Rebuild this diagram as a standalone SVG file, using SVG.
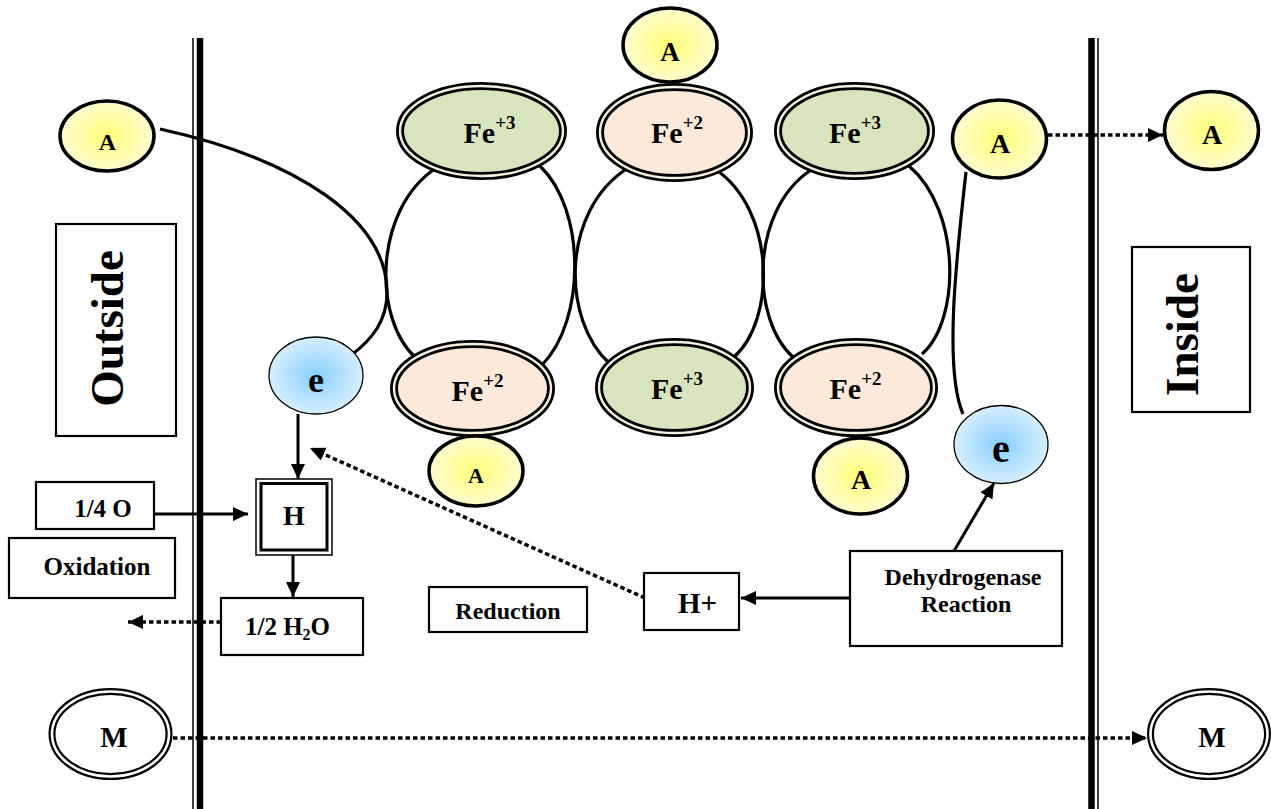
<svg xmlns="http://www.w3.org/2000/svg" width="1271" height="809" viewBox="0 0 1271 809">
<defs>
<radialGradient id="gy" cx="50%" cy="50%" r="50%"><stop offset="0" stop-color="#ffff78"/><stop offset="1" stop-color="#fefdd0"/></radialGradient>
<radialGradient id="gb" cx="50%" cy="50%" r="50%"><stop offset="0" stop-color="#86cffc"/><stop offset="1" stop-color="#d6eefd"/></radialGradient>
<marker id="ah" markerUnits="userSpaceOnUse" markerWidth="16" markerHeight="16" refX="15" refY="7" orient="auto"><path d="M0,0 L15,7 L0,14 z" fill="#000"/></marker>
<style>
text{font-family:'Liberation Serif','Times New Roman','DejaVu Serif',serif;font-weight:bold;fill:#000}
.a{fill:url(#gy);stroke:#000;stroke-width:3.5}
.e{fill:url(#gb);stroke:#000;stroke-width:1.3}
.dbl{stroke:#000;stroke-width:8}
.gap{fill:none;stroke:#f4f2df;stroke-width:2.4}
.g3{fill:#d7e4bd}
.g2{fill:#fde9d9}
.box{fill:#fff;stroke:#000;stroke-width:2.2}
.ln{fill:none;stroke:#000;stroke-width:3.2}
.dot{fill:none;stroke:#000;stroke-width:3.5;stroke-dasharray:4.5 3}
.arr{fill:none;stroke:#000;stroke-width:3;marker-end:url(#ah)}
.fe{font-size:30px}
.sup{font-size:19px}
</style>
</defs>
<rect width="1271" height="809" fill="#fff"/>
<g id="membranes">
<line x1="193" y1="38" x2="193" y2="809" stroke="#000" stroke-width="1.5"/>
<line x1="200" y1="38" x2="200" y2="809" stroke="#000" stroke-width="6.5"/>
<line x1="1091.5" y1="38" x2="1091.5" y2="809" stroke="#000" stroke-width="6.5"/>
<line x1="1098" y1="38" x2="1098" y2="809" stroke="#000" stroke-width="1.5"/>
</g>
<g id="connectors">
<path class="ln" d="M160,129 C300,160 385,220 387,290 C388,320 372,340 350,356"/>
<path class="ln" d="M966,172 C956,260 944,370 963,414"/>
<path class="ln" d="M436,168 C373,210 373,320 416,358"/>
<path class="ln" d="M540,166 C586,210 586,320 542,365"/>
<path class="ln" d="M628,168 C561,210 561,320 610,364"/>
<path class="ln" d="M715,169 C776,210 776,320 734,357"/>
<path class="ln" d="M811,170 C750,210 750,320 794,358"/>
<path class="ln" d="M909,166 C961,210 961,320 922,354"/>
<line class="dot" x1="1048" y1="135" x2="1163" y2="135" marker-end="url(#ah)"/>
<line class="arr" x1="298" y1="414" x2="298" y2="479"/>
<line class="arr" x1="154" y1="514" x2="248" y2="514"/>
<line class="arr" x1="293" y1="555" x2="293" y2="597"/>
<line class="dot" x1="221" y1="622" x2="128" y2="622" marker-end="url(#ah)"/>
<line class="dot" x1="645" y1="598" x2="310" y2="448" marker-end="url(#ah)"/>
<line class="arr" x1="850" y1="598" x2="741" y2="598"/>
<line class="arr" x1="954" y1="551" x2="994" y2="483"/>
<line class="dot" x1="173" y1="738" x2="1147" y2="738" marker-end="url(#ah)"/>
</g>
<g font-family="'Liberation Serif','Times New Roman','DejaVu Serif',serif" font-weight="bold">
<g id="A-outside-left"><ellipse class="a" cx="107" cy="136" rx="47" ry="35"/><text x="107.5" y="150" font-size="24" text-anchor="middle">A</text></g>
<g id="A-top"><ellipse class="a" cx="670" cy="45" rx="47" ry="37"/><text x="670" y="61" font-size="27" text-anchor="middle">A</text></g>
<g id="Fe-top-1"><ellipse class="dbl g3" cx="481.5" cy="131" rx="81.5" ry="45"/><ellipse class="gap" cx="481.5" cy="131" rx="81.5" ry="45"/><text class="fe" x="489.5" y="143" text-anchor="middle">Fe<tspan class="sup" dy="-14">+3</tspan></text></g>
<g id="Fe-top-2"><ellipse class="dbl g2" cx="674.5" cy="132.5" rx="74.5" ry="45.5"/><ellipse class="gap" cx="674.5" cy="132.5" rx="74.5" ry="45.5"/><text class="fe" x="677" y="143" text-anchor="middle">Fe<tspan class="sup" dy="-14">+2</tspan></text></g>
<g id="Fe-top-3"><ellipse class="dbl g3" cx="854.5" cy="131" rx="76.5" ry="45"/><ellipse class="gap" cx="854.5" cy="131" rx="76.5" ry="45"/><text class="fe" x="855" y="143" text-anchor="middle">Fe<tspan class="sup" dy="-14">+3</tspan></text></g>
<g id="Fe-bottom-1"><ellipse class="dbl g2" cx="472.5" cy="388.5" rx="78.5" ry="44.5"/><ellipse class="gap" cx="472.5" cy="388.5" rx="78.5" ry="44.5"/><text class="fe" x="477.5" y="401" text-anchor="middle">Fe<tspan class="sup" dy="-14">+2</tspan></text></g>
<g id="Fe-bottom-2"><ellipse class="dbl g3" cx="674.5" cy="387.5" rx="75.5" ry="45.5"/><ellipse class="gap" cx="674.5" cy="387.5" rx="75.5" ry="45.5"/><text class="fe" x="677" y="399" text-anchor="middle">Fe<tspan class="sup" dy="-14">+3</tspan></text></g>
<g id="Fe-bottom-3"><ellipse class="dbl g2" cx="856" cy="387.5" rx="78" ry="45.5"/><ellipse class="gap" cx="856" cy="387.5" rx="78" ry="45.5"/><text class="fe" x="855.5" y="399" text-anchor="middle">Fe<tspan class="sup" dy="-14">+2</tspan></text></g>
<g id="A-bottom-1"><ellipse class="a" cx="476" cy="471" rx="47" ry="35"/><text x="476" y="483" font-size="22" text-anchor="middle">A</text></g>
<g id="A-bottom-2"><ellipse class="a" cx="860.5" cy="476" rx="47" ry="38"/><text x="861" y="489" font-size="28" text-anchor="middle">A</text></g>
<g id="A-inner-right"><ellipse class="a" cx="999.5" cy="139" rx="47" ry="39"/><text x="1000" y="153" font-size="28" text-anchor="middle">A</text></g>
<g id="A-inside"><ellipse class="a" cx="1211.5" cy="130.5" rx="47" ry="39"/><text x="1212" y="144" font-size="28" text-anchor="middle">A</text></g>
<g id="e-left"><ellipse class="e" cx="316" cy="375.5" rx="47" ry="38.5"/><text x="316" y="392" font-size="36" text-anchor="middle">e</text></g>
<g id="e-right"><ellipse class="e" cx="1001" cy="444.5" rx="47" ry="39"/><text x="1001" y="462" font-size="40" text-anchor="middle">e</text></g>
<g id="outside-label"><rect class="box" x="56" y="224" width="120" height="212"/><text font-size="47" text-anchor="middle" transform="translate(123,328.5) rotate(-90)">Outside</text></g>
<g id="inside-label"><rect class="box" x="1132" y="247" width="118" height="165"/><text font-size="47" text-anchor="middle" transform="translate(1198,334.5) rotate(-90)">Inside</text></g>
<g id="H"><rect x="256" y="479" width="76" height="76" fill="#fff" stroke="#000" stroke-width="1.5"/><rect x="261" y="483.5" width="66" height="66.5" fill="none" stroke="#000" stroke-width="3"/><text x="294" y="525" font-size="28" text-anchor="middle">H</text></g>
<g id="quarter-O"><rect class="box" x="36" y="482" width="118" height="47"/><text x="103" y="517" font-size="25" text-anchor="middle">1/4 O</text></g>
<g id="oxidation"><rect class="box" x="9" y="538" width="166" height="60"/><text x="97" y="575" font-size="25" text-anchor="middle">Oxidation</text></g>
<g id="water"><rect class="box" x="221" y="598" width="142" height="57"/><text x="287.5" y="635" font-size="25" text-anchor="middle">1/2 H<tspan font-size="16" dy="5">2</tspan><tspan dy="-5">O</tspan></text></g>
<g id="reduction"><rect class="box" x="429" y="587" width="158" height="45"/><text x="508" y="619" font-size="24" text-anchor="middle">Reduction</text></g>
<g id="H-plus"><rect class="box" x="644" y="573" width="95" height="57"/><text x="697.5" y="613" font-size="29" text-anchor="middle">H+</text></g>
<g id="dehydrogenase"><rect class="box" x="850" y="551" width="212" height="95"/><text x="963" y="585" font-size="24" text-anchor="middle">Dehydrogenase</text><text x="966" y="612" font-size="24" text-anchor="middle">Reaction</text></g>
<g id="M-outside"><ellipse cx="110.5" cy="734" rx="58.5" ry="42.5" fill="#fff" stroke="#000" stroke-width="7"/><ellipse cx="110.5" cy="734" rx="58.5" ry="42.5" fill="none" stroke="#fff" stroke-width="2.6"/><text x="114" y="747" font-size="29" text-anchor="middle">M</text></g>
<g id="M-inside"><ellipse cx="1209" cy="734" rx="58.5" ry="42.5" fill="#fff" stroke="#000" stroke-width="7"/><ellipse cx="1209" cy="734" rx="58.5" ry="42.5" fill="none" stroke="#fff" stroke-width="2.6"/><text x="1212" y="747" font-size="29" text-anchor="middle">M</text></g>
</g>
</svg>
